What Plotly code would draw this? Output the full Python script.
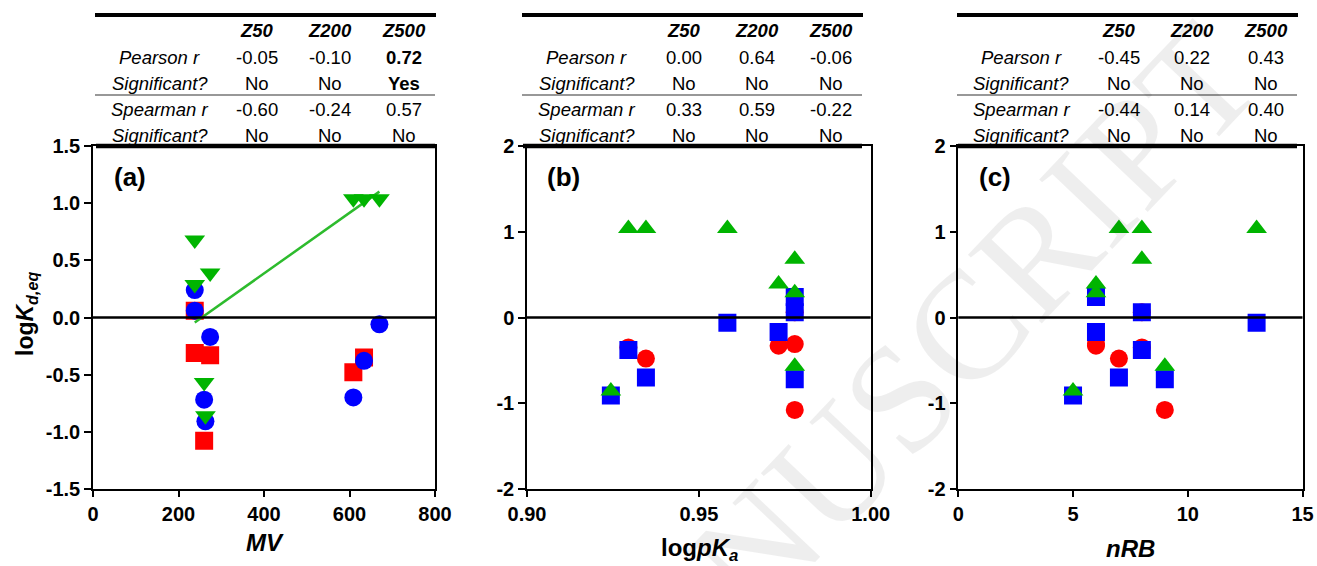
import numpy as np
import plotly.graph_objects as go

W, H = 1317, 566

# ---------------- data ----------------
compounds = ["C1", "C2", "C3", "C4", "C5", "C6", "C7", "C8"]
MV = [263, 274, 238, 609, 634, 238, 260, 670]
log_pKa = [0.9244, 0.9732, 0.9779, 0.9346, 0.9295, 0.9779, 0.9779, 0.9583]
nRB = [5, 6, 6, 7, 8, 8, 9, 13]
logKd_Z50 = [None, -0.33, -0.31, -0.48, -0.35, 0.06, -1.08, None]
logKd_Z200 = [-0.91, -0.17, 0.24, -0.70, -0.38, 0.06, -0.72, -0.06]
logKd_Z500 = [-0.86, 0.39, 0.29, 1.04, 1.04, 0.68, -0.57, 1.04]

table_cols = ["Z50", "Z200", "Z500"]
row_labels = ["Pearson r", "Significant?", "Spearman r", "Significant?"]

pearson_a = ["-0.05", "-0.10", "0.72"]
sig_pearson_a = ["No", "No", "Yes"]
spearman_a = ["-0.60", "-0.24", "0.57"]
sig_spearman_a = ["No", "No", "No"]

pearson_b = ["0.00", "0.64", "-0.06"]
sig_pearson_b = ["No", "No", "No"]
spearman_b = ["0.33", "0.59", "-0.22"]
sig_spearman_b = ["No", "No", "No"]

pearson_c = ["-0.45", "0.22", "0.43"]
sig_pearson_c = ["No", "No", "No"]
spearman_c = ["-0.44", "0.14", "0.40"]
sig_spearman_c = ["No", "No", "No"]

ticks_a_x = [0, 200, 400, 600, 800]
ticks_a_y = [-1.5, -1.0, -0.5, 0.0, 0.5, 1.0, 1.5]
ticktext_a_y = ["-1.5", "-1.0", "-0.5", "0.0", "0.5", "1.0", "1.5"]
ticks_b_x = [0.90, 0.95, 1.00]
ticktext_b_x = ["0.90", "0.95", "1.00"]
ticks_c_x = [0, 5, 10, 15]
ticks_bc_y = [-2, -1, 0, 1, 2]
ticktext_bc_y = ["-2", "-1", "0", "1", "2"]

# ---------------- style ----------------
RED = "#FF0000"
BLUE = "#0000FF"
GREEN = "#00B400"
LINE_GREEN = "#2DBB2D"
FONT = "Liberation Sans"


def px(x):
    return x / W


def py(y):
    return 1 - y / H


fig = go.Figure()

# panel domains (pixel based)
dom_x = {"a": [px(93), px(435)], "b": [px(527), px(870.7)], "c": [px(958.3), px(1302.5)]}
dom_y = [py(488.7), py(146.3)]

axes_ids = {"a": ("x", "y"), "b": ("x2", "y2"), "c": ("x3", "y3")}

# ---------- panel (a) ----------
fig.add_trace(go.Scatter(x=MV, y=logKd_Z50, mode="markers", xaxis="x", yaxis="y",
                         marker=dict(symbol="square", size=18, color=RED, line=dict(width=0)),
                         name="Z50", showlegend=False))
fig.add_trace(go.Scatter(x=MV, y=logKd_Z200, mode="markers", xaxis="x", yaxis="y",
                         marker=dict(symbol="circle", size=18, color=BLUE, line=dict(width=0)),
                         name="Z200", showlegend=False))
slope, intercept = np.polyfit(MV, logKd_Z500, 1)
fit_x = np.array([min(MV), max(MV)])
fig.add_trace(go.Scatter(x=fit_x, y=slope * fit_x + intercept, mode="lines", xaxis="x", yaxis="y",
                         line=dict(color=LINE_GREEN, width=2.5), showlegend=False))
fig.add_trace(go.Scatter(x=MV, y=logKd_Z500, mode="markers", xaxis="x", yaxis="y",
                         marker=dict(symbol="triangle-down", size=18, color=GREEN, line=dict(width=0)),
                         name="Z500", showlegend=False))

# ---------- panels (b), (c) ----------
for xvals, (xa, ya) in [(log_pKa, axes_ids["b"]), (nRB, axes_ids["c"])]:
    fig.add_trace(go.Scatter(x=xvals, y=logKd_Z50, mode="markers", xaxis=xa, yaxis=ya,
                             marker=dict(symbol="circle", size=18, color=RED, line=dict(width=0)),
                             showlegend=False))
    fig.add_trace(go.Scatter(x=xvals, y=logKd_Z200, mode="markers", xaxis=xa, yaxis=ya,
                             marker=dict(symbol="square", size=18, color=BLUE, line=dict(width=0)),
                             showlegend=False))
    fig.add_trace(go.Scatter(x=xvals, y=logKd_Z500, mode="markers", xaxis=xa, yaxis=ya,
                             marker=dict(symbol="triangle-up", size=18, color=GREEN, line=dict(width=0)),
                             showlegend=False))

tickfont = dict(family=FONT, size=20, color="black", weight="bold")
common_axis = dict(showline=True, linecolor="black", linewidth=1.5, mirror=True,
                   ticks="outside", ticklen=7, tickwidth=1.5, tickcolor="black",
                   showgrid=False, zeroline=False, tickfont=tickfont, fixedrange=True,
                   automargin=False)

fig.update_layout(
    xaxis=dict(domain=dom_x["a"], anchor="y", range=[0, 800], tickvals=ticks_a_x, **common_axis),
    yaxis=dict(domain=dom_y, anchor="x", range=[-1.5, 1.5], tickvals=ticks_a_y, ticktext=ticktext_a_y,
               **common_axis),
    xaxis2=dict(domain=dom_x["b"], anchor="y2", range=[0.90, 1.00], tickvals=ticks_b_x,
                ticktext=ticktext_b_x, **common_axis),
    yaxis2=dict(domain=dom_y, anchor="x2", range=[-2, 2], tickvals=ticks_bc_y, ticktext=ticktext_bc_y,
                **common_axis),
    xaxis3=dict(domain=dom_x["c"], anchor="y3", range=[0, 15], tickvals=ticks_c_x, **common_axis),
    yaxis3=dict(domain=dom_y, anchor="x3", range=[-2, 2], tickvals=ticks_bc_y, ticktext=ticktext_bc_y,
                **common_axis),
)

shapes = []
annotations = []

# zero lines
for key, (xa, ya) in axes_ids.items():
    shapes.append(dict(type="line", xref=xa + " domain", yref=ya, x0=0, x1=1, y0=0, y1=0,
                       line=dict(color="black", width=2.5)))

# watermark
annotations.append(dict(text="MANUSCRIPT", xref="paper", yref="paper", x=px(888), y=py(410),
                        xanchor="center", yanchor="middle", showarrow=False, textangle=-46.5,
                        font=dict(family="Liberation Serif", size=154, color="rgba(0,0,0,0.065)")))

# panel letters
for key, left in [("a", 93), ("b", 527), ("c", 958.3)]:
    annotations.append(dict(text="<b>(" + key + ")</b>", xref="paper", yref="paper",
                            x=px(left + 36.5), y=py(177), xanchor="center", yanchor="middle",
                            showarrow=False, font=dict(family=FONT, size=26, color="black")))

# axis titles
title_font = dict(family=FONT, size=24, color="black")
annotations.append(dict(text="<b><i>MV</i></b>", xref="paper", yref="paper", x=px(265), y=py(542),
                        xanchor="center", yanchor="middle", showarrow=False, font=title_font))
annotations.append(dict(text="<b>log<i>pK</i><sub><i>a</i></sub></b>", xref="paper", yref="paper",
                        x=px(699), y=py(549), xanchor="center", yanchor="middle", showarrow=False,
                        font=title_font))
annotations.append(dict(text="<b><i>nRB</i></b>", xref="paper", yref="paper", x=px(1130), y=py(548),
                        xanchor="center", yanchor="middle", showarrow=False, font=title_font))
annotations.append(dict(text="<b>log<i>K</i><sub><i>d,eq</i></sub></b>", xref="paper", yref="paper",
                        x=px(27), y=py(314), xanchor="center", yanchor="middle", showarrow=False,
                        textangle=-90, font=dict(family=FONT, size=23, color="black")))

# tables
tables = [
    (95, [pearson_a, sig_pearson_a, spearman_a, sig_spearman_a], {(0, 2), (1, 2)}),
    (522, [pearson_b, sig_pearson_b, spearman_b, sig_spearman_b], set()),
    (957, [pearson_c, sig_pearson_c, spearman_c, sig_spearman_c], set()),
]
col_off = [64.5, 162, 235, 308.5]
row_y = [57, 83.5, 109.5, 135]
header_y = 31
tfont = dict(family=FONT, size=18.5, color="black")
for left, rows, bold in tables:
    shapes.append(dict(type="line", xref="paper", yref="paper", x0=px(left), x1=px(left + 341),
                       y0=py(15), y1=py(15), line=dict(color="black", width=4)))
    shapes.append(dict(type="line", xref="paper", yref="paper", x0=px(left), x1=px(left + 340),
                       y0=py(95), y1=py(95), line=dict(color="#333333", width=1.2)))
    shapes.append(dict(type="line", xref="paper", yref="paper", x0=px(left + 1), x1=px(left + 340),
                       y0=py(146), y1=py(146), line=dict(color="black", width=4.5)))
    for j, col in enumerate(table_cols):
        annotations.append(dict(text="<b><i>" + col + "</i></b>", xref="paper", yref="paper",
                                x=px(left + col_off[j + 1]), y=py(header_y), xanchor="center",
                                yanchor="middle", showarrow=False, font=tfont))
    for i, lab in enumerate(row_labels):
        annotations.append(dict(text="<i>" + lab + "</i>", xref="paper", yref="paper",
                                x=px(left + col_off[0]), y=py(row_y[i]), xanchor="center",
                                yanchor="middle", showarrow=False, font=tfont))
        for j in range(3):
            txt = rows[i][j]
            if (i, j) in bold:
                txt = "<b>" + txt + "</b>"
            annotations.append(dict(text=txt, xref="paper", yref="paper",
                                    x=px(left + col_off[j + 1]), y=py(row_y[i]), xanchor="center",
                                    yanchor="middle", showarrow=False, font=tfont))

fig.update_layout(
    width=W, height=H,
    margin=dict(l=0, r=0, t=0, b=0),
    paper_bgcolor="white", plot_bgcolor="white",
    showlegend=False,
    shapes=shapes,
    annotations=annotations,
    font=dict(family=FONT, color="black"),
)

fig.write_html("out.html", config={"displayModeBar": False},
               post_script="document.body.style.margin='0';document.body.style.overflow='hidden';")
